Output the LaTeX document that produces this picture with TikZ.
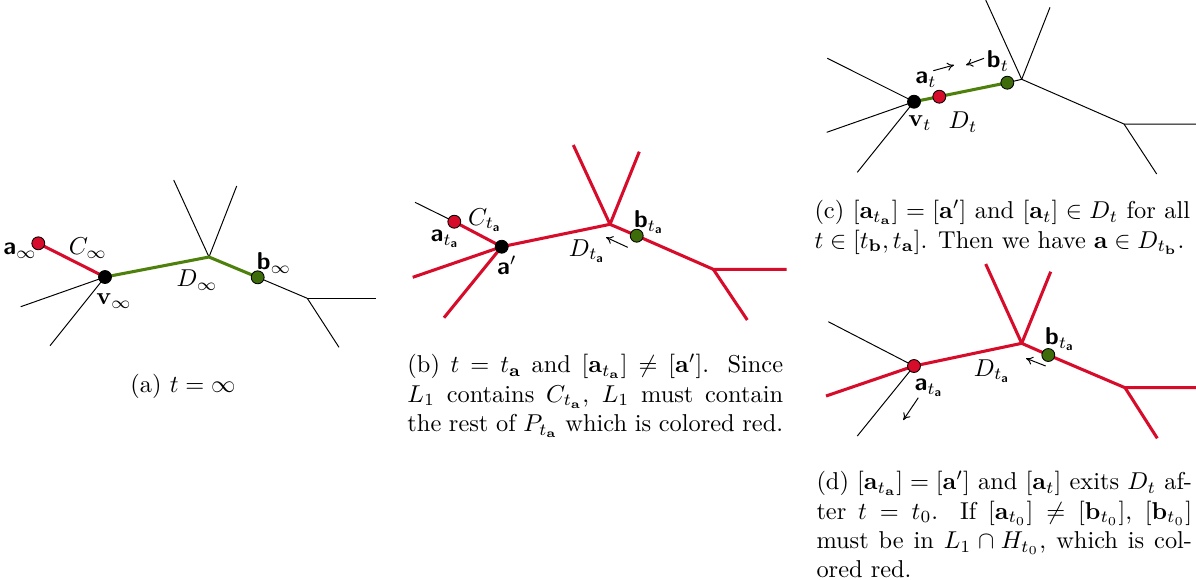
\documentclass[tikz,border=0pt]{standalone}
\usepackage{amsmath,amssymb}
\usetikzlibrary{arrows.meta}
\definecolor{myred}{RGB}{214,12,42}
\definecolor{mygreen}{RGB}{78,128,12}
\definecolor{mygreendot}{RGB}{62,108,10}
\newcommand{\sa}{\textsf{\textbf{a}}}
\newcommand{\sbb}{\textsf{\textbf{b}}}
\tikzset{
  thinline/.style={black,line width=0.4pt},
  redline/.style={myred,line width=1.25pt},
  greenline/.style={mygreen,line width=1.25pt},
  dot/.style={circle,draw=black,line width=0.35pt,inner sep=0pt,minimum size=5.3pt},
  reddot/.style={dot,fill=myred},
  greendot/.style={dot,fill=mygreendot},
  blackdot/.style={dot,fill=black},
  lbl/.style={inner sep=0pt},
  motion/.style={thinline,-{To[length=2.8pt,width=3.4pt]}},
  captext/.style={anchor=north west,inner sep=0pt}
}
\begin{document}
\begin{tikzpicture}[x=0.41pt,y=-0.41pt]
\useasboundingbox (0,0) rectangle (1196,579);
% ---------------- (a)
\coordinate (av) at (105,277);
\coordinate (aj) at (209,257);
\coordinate (atl) at (173.7,180);
\coordinate (atr) at (236.7,186);
\coordinate (arj) at (307.3,298.3);
\coordinate (are) at (376,298.3);
\coordinate (arl) at (339,347.3);
\coordinate (avl) at (20.7,306.7);
\coordinate (avll) at (50,345.7);
\coordinate (aa) at (38.3,243.3);
\coordinate (ab) at (257.7,277.3);
\draw[thinline] (aj) -- (atl);
\draw[thinline] (aj) -- (atr);
\draw[thinline] (ab) -- (arj);
\draw[thinline] (arj) -- (are);
\draw[thinline] (arj) -- (arl);
\draw[thinline] (av) -- (avl);
\draw[thinline] (av) -- (avll);
\draw[greenline] (av) -- (aj) -- (ab);
\draw[redline] (aa) -- (av);
\node[reddot] (aadot) at (aa) {};
\node[blackdot] (avdot) at (av) {};
\node[greendot] (abdot) at (ab) {};
\node[lbl] (aal) at (20,251) {$\sa_\infty$};
\node[lbl] (acl) at (88,248) {$C_\infty$};
\node[lbl] (avl2) at (114,301) {$\mathbf{v}_\infty$};
\node[lbl] (adl) at (197,280) {$D_\infty$};
\node[lbl] (abl) at (274,263) {$\sbb_\infty$};
\node[lbl] (capa) at (183,386) {(a) $t=\infty$};
% ---------------- (b)
\coordinate (bp) at (415,202.3);
\coordinate (ba) at (454.3,221.7);
\coordinate (bv) at (501.7,246.7);
\coordinate (bj) at (610,224.3);
\coordinate (btl) at (573.3,145);
\coordinate (btr) at (639.3,151.7);
\coordinate (bb) at (636.7,235.7);
\coordinate (brj) at (713.3,269.3);
\coordinate (bre) at (786.7,269.3);
\coordinate (brl) at (747.3,320);
\coordinate (bvl) at (412.7,277.3);
\coordinate (bvll) at (444,317.7);
\coordinate (bm1) at (627.7,247.3);
\coordinate (bm2) at (606,237.3);
\draw[thinline] (bp) -- (ba);
\draw[redline] (ba) -- (bv) -- (bj) -- (bb) -- (brj) -- (bre);
\draw[redline] (brj) -- (brl);
\draw[redline] (bj) -- (btl);
\draw[redline] (bj) -- (btr);
\draw[redline] (bv) -- (bvl);
\draw[redline] (bv) -- (bvll);
\node[reddot] (badot) at (ba) {};
\node[blackdot] (bvdot) at (bv) {};
\node[greendot] (bbdot) at (bb) {};
\draw[motion] (bm1) -- (bm2);
\node[lbl] (bal) at (445,239) {$\sa_{t_{\sa}}$};
\node[lbl] (bcl) at (485,220) {$C_{t_{\sa}}$};
\node[lbl] (bvl2) at (507,265) {$\sa'$};
\node[lbl] (bdl) at (587,251) {$D_{t_{\sa}}$};
\node[lbl] (bbl) at (649,222) {$\sbb_{t_{\sa}}$};
\node[captext] (capb) at (407,354) {\begin{minipage}[t]{154pt}
(b) $t=t_{\mathbf{a}}$ and $[\mathbf{a}_{t_{\mathbf{a}}}]\neq[\mathbf{a}']$. Since\linebreak
$L_1$ contains $C_{t_{\mathbf{a}}}$, $L_1$ must contain\linebreak
the rest of $P_{t_{\mathbf{a}}}$ which is colored red.
\end{minipage}};
% ---------------- (c)
\coordinate (cv) at (914,101.7);
\coordinate (ca) at (939.3,96.7);
\coordinate (cb) at (1007.3,82.7);
\coordinate (cj) at (1021.7,79.3);
\coordinate (ctl) at (985.7,0);
\coordinate (ctr) at (1050,7.3);
\coordinate (crj) at (1124,124);
\coordinate (cre) at (1196,124);
\coordinate (crl) at (1156.7,174);
\coordinate (cvul) at (827.3,58.3);
\coordinate (cvl) at (826.7,132.3);
\coordinate (cvll) at (857.3,172.3);
\coordinate (cm1) at (933.3,70.7);
\coordinate (cm2) at (954,65);
\coordinate (cm3) at (984,58.3);
\coordinate (cm4) at (966,65);
\draw[thinline] (cb) -- (cj) -- (crj) -- (cre);
\draw[thinline] (crj) -- (crl);
\draw[thinline] (cj) -- (ctl);
\draw[thinline] (cj) -- (ctr);
\draw[thinline] (cv) -- (cvul);
\draw[thinline] (cv) -- (cvl);
\draw[thinline] (cv) -- (cvll);
\draw[greenline] (cv) -- (cb);
\node[blackdot] (cvdot) at (cv) {};
\node[reddot] (cadot) at (ca) {};
\node[greendot] (cbdot) at (cb) {};
\draw[motion] (cm1) -- (cm2);
\draw[motion] (cm3) -- (cm4);
\node[lbl] (cal) at (926,80) {$\sa_t$};
\node[lbl] (cbl) at (998,61) {$\sbb_t$};
\node[lbl] (cvl2) at (920,123) {$\mathbf{v}_t$};
\node[lbl] (cdl) at (963,122) {$D_t$};
\node[captext] (capc) at (814,200) {\begin{minipage}[t]{154pt}
(c) $[\mathbf{a}_{t_{\mathbf{a}}}]=[\mathbf{a}']$ and $[\mathbf{a}_t]\in D_t$ for all\linebreak
$t\in[t_{\mathbf{b}},t_{\mathbf{a}}]$. Then we have $\mathbf{a}\in D_{t_{\mathbf{b}}}$.
\end{minipage}};
% ---------------- (d)
\coordinate (da) at (914,366);
\coordinate (dul) at (828.3,321.7);
\coordinate (dl) at (826,396);
\coordinate (dll) at (857.3,436);
\coordinate (dj) at (1021.7,343.3);
\coordinate (dtl) at (985.7,264);
\coordinate (dtr) at (1050.7,271.7);
\coordinate (db) at (1048.3,355);
\coordinate (drj) at (1125,387.7);
\coordinate (dre) at (1196,387.7);
\coordinate (drl) at (1157.3,438.3);
\coordinate (dm1) at (918.3,397.7);
\coordinate (dm2) at (903.3,420);
\coordinate (dm3) at (1045.7,366);
\coordinate (dm4) at (1026,358.3);
\draw[thinline] (da) -- (dul);
\draw[thinline] (da) -- (dll);
\draw[redline] (dl) -- (da) -- (dj) -- (db) -- (drj) -- (dre);
\draw[redline] (drj) -- (drl);
\draw[redline] (dj) -- (dtl);
\draw[redline] (dj) -- (dtr);
\node[reddot] (dadot) at (da) {};
\node[greendot] (dbdot) at (db) {};
\draw[motion] (dm1) -- (dm2);
\draw[motion] (dm3) -- (dm4);
\node[lbl] (dal) at (929,388) {$\sa_{t_{\sa}}$};
\node[lbl] (ddl) at (992,371) {$D_{t_{\sa}}$};
\node[lbl] (dbl) at (1060,339) {$\sbb_{t_{\sa}}$};
\node[captext] (capd) at (816,471) {\begin{minipage}[t]{154pt}
(d) $[\mathbf{a}_{t_{\mathbf{a}}}]=[\mathbf{a}']$ and $[\mathbf{a}_t]$ exits $D_t$ af-\linebreak
ter $t=t_0$. If $[\mathbf{a}_{t_0}]\neq[\mathbf{b}_{t_0}]$, $[\mathbf{b}_{t_0}]$\linebreak
must be in $L_1\cap H_{t_0}$, which is col-\linebreak
ored red.
\end{minipage}};
\end{tikzpicture}
\end{document}
